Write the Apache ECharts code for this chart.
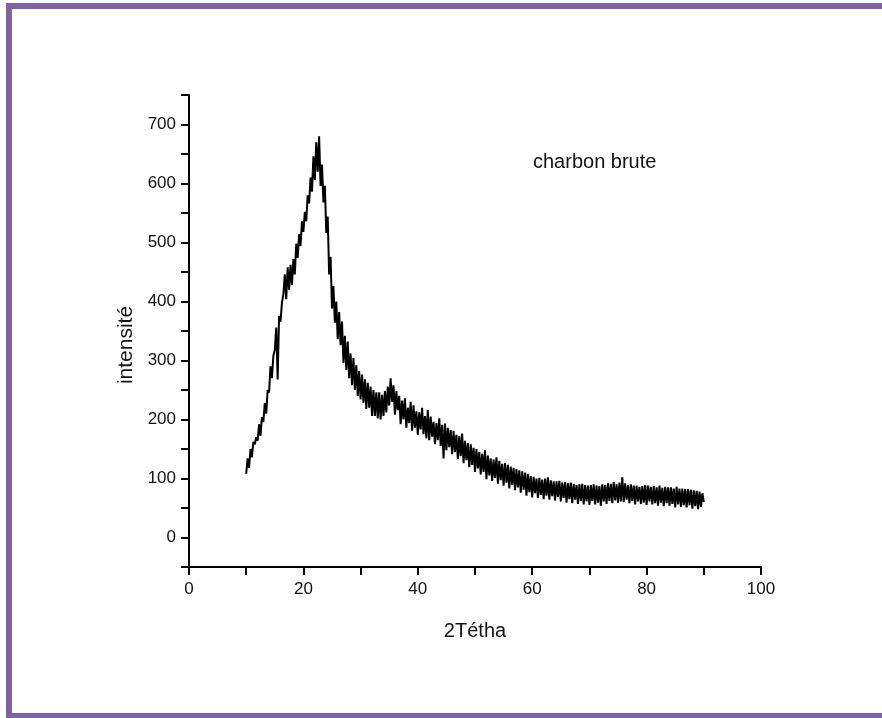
<!DOCTYPE html>
<html>
<head>
<meta charset="utf-8">
<script src="https://cdn.jsdelivr.net/npm/echarts@6/dist/echarts.min.js"></script>
<style>
    html, body { margin: 0; padding: 0; background: #fff; }
    #chart { width: 882px; height: 718px; }
</style>
</head>
<body>
<div id="chart"></div>
<script>
    // balayage 2θ : début et pas d'échantillonnage (degrés)
    const angleStart = 10
    const angleStep = 0.25

    const intensite = [
        108, 134, 118, 150,  136, 162, 158, 170,  164, 192, 172, 204,  196, 228, 210, 250,   // 10-13
        246, 290, 270, 308,  318, 356, 268, 376,  366, 398, 412, 446,  404, 458, 420, 462,   // 14-17
        428, 472, 446, 498,  474, 514, 494, 536,  518, 552, 536, 580,  566, 610, 586, 646,   // 18-21
        606, 670, 620, 680,  596, 632, 568, 596,  516, 544, 446, 476,  388, 426, 364, 400,   // 22-25
        336, 382, 326, 366,  296, 342, 284, 332,  270, 312, 258, 304,  250, 292, 240, 282,   // 26-29
        234, 276, 228, 268,  218, 262, 220, 256,  206, 250, 206, 246,  202, 246, 200, 242,   // 30-33
        206, 248, 212, 256,  224, 270, 230, 258,  208, 248, 216, 240,  192, 232, 200, 236,   // 34-37
        186, 220, 194, 230,  181, 224, 186, 214,  174, 212, 183, 220,  175, 206, 168, 216,   // 38-41
        165, 205, 171, 196,  158, 194, 165, 202,  155, 191, 134, 193,  148, 186, 153, 182,   // 42-45
        141, 181, 145, 174,  133, 172, 138, 176,  126, 164, 131, 160,  119, 158, 123, 152,   // 46-49
        111, 150, 117, 145,  107, 142, 111, 148,  99, 139, 105, 134,   96, 132, 101, 136,    // 50-53
        91, 130, 97, 125,    88, 126, 93, 123,    83, 120, 89, 118,    80, 116, 85, 114,     // 54-57
        76, 112, 81, 110,    71, 108, 77, 104,    68, 103, 75, 100,    67, 101, 72, 98,      // 58-61
        65, 100, 71, 102,    64, 97, 70, 95,      63, 95, 69, 96,      61, 93, 67, 94,       // 62-65
        59, 92, 65, 93,      58, 91, 64, 89,      57, 90, 62, 91,      56, 89, 61, 88,       // 66-69
        55, 89, 62, 90,      56, 88, 59, 87,      54, 90, 61, 89,      57, 92, 62, 91,       // 70-73
        58, 94, 63, 90,      59, 93, 61, 102,     60, 92, 64, 89,      58, 90, 62, 88,       // 74-77
        56, 88, 61, 86,      57, 87, 59, 89,      55, 88, 61, 86,      56, 87, 58, 85,       // 78-81
        54, 88, 59, 84,      53, 86, 58, 85,      54, 85, 57, 83,      51, 86, 56, 83,       // 82-85
        52, 83, 55, 82,      51, 82, 55, 81,      49, 80, 53, 79,      48, 78, 52, 75,       // 86-89
        60                                                                                // 90
    ]

    const xTicks = [0, 20, 40, 60, 80, 100]
    const yTicks = [0, 100, 200, 300, 400, 500, 600, 700]

    let points = intensite.map((v, i) => [angleStart + i * angleStep, v])

    let myChart = echarts.init(document.getElementById('chart'), null, { renderer: 'canvas' })
    let font = 'Liberation Sans, Arial, sans-serif'

    let option = {
        backgroundColor: '#fff',
        animation: false,
        grid: {
            left: 189,
            right: 121,
            top: 95,
            bottom: 151,
            containLabel: false
        },
        xAxis: {
            type: 'value',
            min: 0,
            max: 100,
            interval: 10,
            name: '2Tétha',
            nameLocation: 'middle',
            nameGap: 54,
            nameTextStyle: { color: '#111', fontSize: 20, fontFamily: font },
            axisLine: { onZero: false, lineStyle: { color: '#000', width: 2 } },
            axisTick: { inside: false, length: 8, lineStyle: { color: '#000', width: 2 } },
            axisLabel: {
                color: '#111',
                fontSize: 17,
                fontFamily: font,
                margin: 14,
                formatter: v => xTicks.includes(v) ? String(v) : ''
            },
            splitLine: { show: false }
        },
        yAxis: {
            type: 'value',
            min: -50,
            max: 750,
            interval: 50,
            name: 'intensité',
            nameLocation: 'middle',
            nameGap: 52,
            nameTextStyle: { color: '#111', fontSize: 21, fontFamily: font, padding: [0, 28, 0, 0] },
            axisLine: { onZero: false, lineStyle: { color: '#000', width: 2 } },
            axisTick: { inside: false, length: 8, lineStyle: { color: '#000', width: 2 } },
            axisLabel: {
                color: '#111',
                fontSize: 17,
                fontFamily: font,
                margin: 13,
                formatter: v => yTicks.includes(v) ? String(v) : ''
            },
            splitLine: { show: false }
        },
        graphic: [
            {
                // cadre violet autour de la figure
                type: 'rect',
                silent: true,
                shape: { x: 9, y: 6, width: 900, height: 710 },
                style: { fill: null, stroke: '#8064A2', lineWidth: 6 }
            },
            {
                type: 'text',
                left: 533,
                top: 152,
                style: { text: 'charbon brute', fill: '#111', fontSize: 20, fontFamily: font }
            }
        ],
        series: [
            {
                name: 'charbon brute',
                type: 'line',
                data: points,
                showSymbol: false,
                symbol: 'none',
                lineStyle: { color: '#000', width: 2 },
                z: 3
            }
        ]
    }
    myChart.setOption(option)
</script>
</body>
</html>
